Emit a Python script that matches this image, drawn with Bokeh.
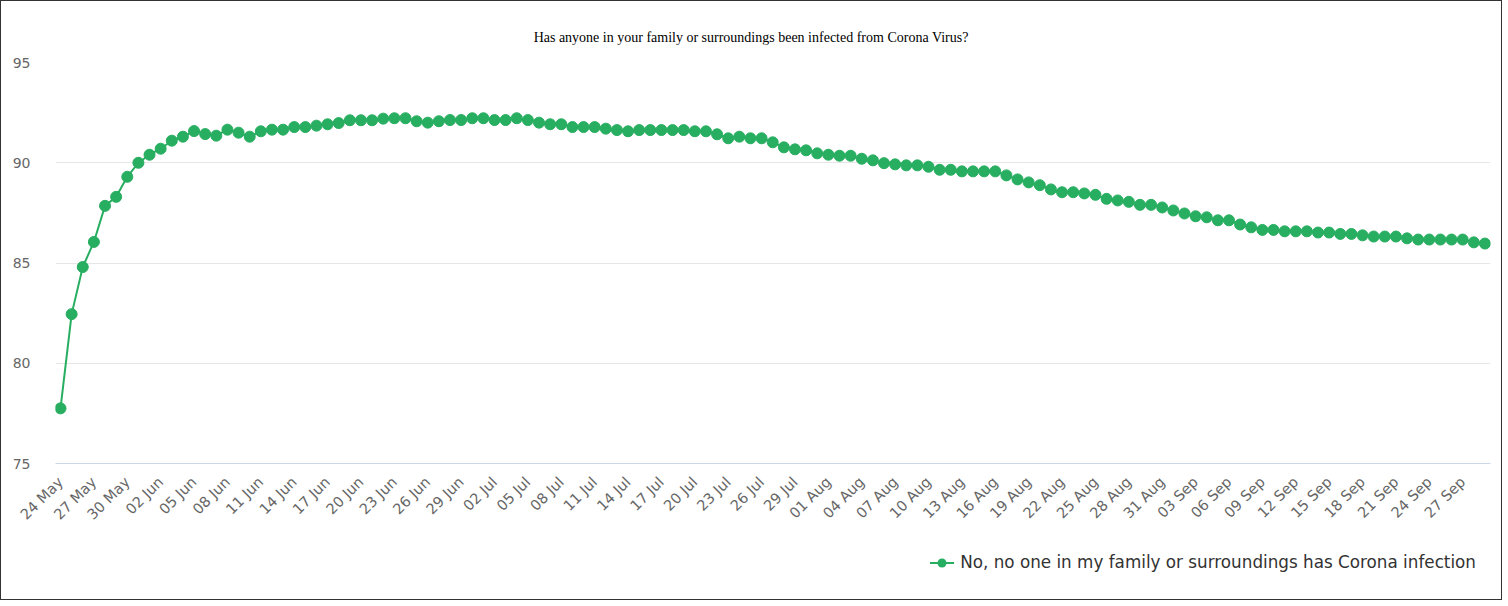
import pandas as pd
from bokeh.plotting import figure
from bokeh.models import ColumnDataSource, Range1d, FixedTicker, Div
from bokeh.layouts import column
from bokeh.embed import file_html
from bokeh.resources import INLINE

title_text = "Has anyone in your family or surroundings been infected from Corona Virus?"
series_name = "No, no one in my family or surroundings has Corona infection"

dates = pd.date_range("2020-05-24", "2020-09-29", freq="D")
date_labels = [d.strftime("%d %b") for d in dates]

values = [
    77.75, 82.45, 84.8, 86.05, 87.85, 88.3, 89.3, 90.0, 90.4, 90.7,
    91.1, 91.3, 91.58, 91.43, 91.35, 91.65, 91.5, 91.3, 91.57, 91.65,
    91.65, 91.78, 91.78, 91.85, 91.92, 91.98, 92.12, 92.12, 92.12, 92.2,
    92.22, 92.22, 92.07, 92.0, 92.07, 92.13, 92.13, 92.22, 92.22, 92.13,
    92.13, 92.22, 92.13, 92.0, 91.92, 91.92, 91.78, 91.78, 91.78, 91.7,
    91.63, 91.57, 91.63, 91.63, 91.63, 91.63, 91.63, 91.57, 91.57, 91.42,
    91.22, 91.3, 91.22, 91.22, 91.02, 90.77, 90.67, 90.62, 90.47, 90.4,
    90.35, 90.35, 90.2, 90.12, 89.98, 89.92, 89.87, 89.87, 89.8, 89.65,
    89.65, 89.57, 89.57, 89.57, 89.57, 89.37, 89.17, 89.02, 88.88, 88.67,
    88.53, 88.53, 88.47, 88.4, 88.2, 88.12, 88.05, 87.9, 87.9, 87.77,
    87.62, 87.47, 87.33, 87.28, 87.13, 87.13, 86.92, 86.78, 86.65, 86.65,
    86.58, 86.58, 86.58, 86.52, 86.52, 86.45, 86.45, 86.38, 86.32, 86.32,
    86.32, 86.23, 86.17, 86.17, 86.17, 86.17, 86.17, 86.03, 85.97,
]

y_ticks = [75, 80, 85, 90, 95]
x_idx = list(range(len(values)))
tick_idx = x_idx[::3]

color = "#27ae60"

source = ColumnDataSource(dict(x=x_idx, y=values, date=date_labels))

title_html = (
    '<div style="width:1490px;text-align:center;font-family:\'Liberation Serif\';'
    f'font-size:14px;line-height:16px;color:#000000;padding-top:24px;">{title_text}</div>'
)
title_div = Div(text=title_html, width=1490, height=33, styles={"background": "white"})

p = figure(width=1490, height=501, output_backend="svg", toolbar_location=None,
           x_range=Range1d(-0.45, len(values) - 0.5), y_range=Range1d(75, 95),
           min_border_left=54, min_border_right=1, min_border_top=18,
           min_border_bottom=82)

p.outline_line_color = None
p.background_fill_color = "white"
p.border_fill_color = "white"

# y axis
p.yaxis.ticker = FixedTicker(ticks=y_ticks)
p.yaxis.axis_line_color = None
p.yaxis.major_tick_line_color = None
p.yaxis.minor_tick_line_color = None
p.yaxis.major_label_text_color = "#666666"
p.yaxis.major_label_text_font = "DejaVu Sans"
p.yaxis.major_label_text_font_size = "14px"
p.yaxis.major_label_standoff = 19
p.ygrid.ticker = FixedTicker(ticks=y_ticks)
p.ygrid.grid_line_color = "#e6e6e6"
p.ygrid.grid_line_width = 1

# x axis
p.xaxis.ticker = FixedTicker(ticks=tick_idx)
p.xaxis.major_label_overrides = {i: date_labels[i] for i in tick_idx}
p.xaxis.major_label_orientation = 0.785398
p.xaxis.axis_line_color = "#ccd6eb"
p.xaxis.major_tick_line_color = None
p.xaxis.minor_tick_line_color = None
p.xaxis.major_label_text_color = "#666666"
p.xaxis.major_label_text_font = "DejaVu Sans"
p.xaxis.major_label_text_font_size = "14.5px"
p.xaxis.major_label_standoff = 10
p.xgrid.grid_line_color = None

p.line("x", "y", source=source, line_color=color, line_width=2)
p.scatter("x", "y", source=source, size=11, fill_color=color, line_color=color)

legend_html = (
    '<div style="display:flex;justify-content:flex-end;align-items:center;'
    'width:1470px;font-family:\'DejaVu Sans\';font-size:16.8px;color:#333333;">'
    '<svg width="24" height="12" style="margin-right:6px">'
    f'<line x1="0" y1="6" x2="24" y2="6" stroke="{color}" stroke-width="2"/>'
    f'<circle cx="12" cy="6" r="4.5" fill="{color}"/></svg>'
    f'<span>{series_name}</span></div>'
)
div = Div(text=legend_html, width=1490, height=44,
          styles={"padding-top": "1px", "background": "white"})

layout = column(title_div, p, div, spacing=0)
layout.styles = {"border": "1px solid #333", "background": "white"}

open("out.html", "w").write(file_html(layout, INLINE))
